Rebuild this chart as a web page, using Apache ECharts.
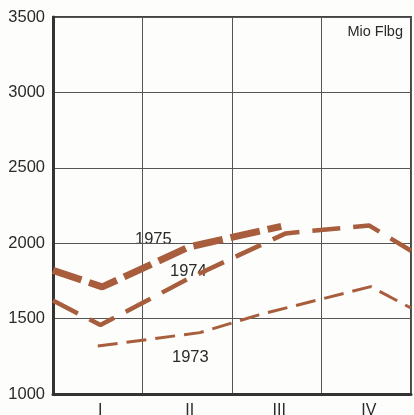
<!DOCTYPE html>
<html>
<head>
<meta charset="utf-8">
<script src="https://cdn.jsdelivr.net/npm/echarts@6/dist/echarts.min.js"></script>
<style>
html,body{margin:0;padding:0;background:#fdfdfb;}
#c{width:414px;height:415px;}
</style>
</head>
<body>
<div id="c"></div>
<script>
const quarters = ['I', 'II', 'III', 'IV'];
const unitLabel = 'Mio Flbg';
const yMin = 1000, yMax = 3500, yStep = 500;

// x positions in quarter units (0 = left edge, 4 = right edge)
const x1975 = [0, 0.55, 1.52, 2.55];
const v1975 = [1820, 1710, 1975, 2112];

const x1974 = [0, 0.53, 1.53, 2.6, 3.53, 4];
const v1974 = [1620, 1457, 1770, 2065, 2118, 1950];

const x1973 = [0.5, 1.64, 2.3, 3.55, 4];
const v1973 = [1318, 1407, 1525, 1712, 1570];

const pair = (xs, vs) => xs.map((x, i) => [x, vs[i]]);
const brown = '#a85d3d';
const font = "'Liberation Sans', Arial, sans-serif";

const chart = echarts.init(document.getElementById('c'), null, {renderer: 'canvas'});
chart.setOption({
  backgroundColor: '#fdfdfb',
  animation: false,
  grid: {left: 53, right: 3, top: 17, bottom: 21, containLabel: false, outerBoundsMode: 'none',
         show: true, borderColor: '#444', borderWidth: 2, backgroundColor: 'transparent'},
  xAxis: [
    {
      type: 'category', data: quarters, boundaryGap: true,
      axisLine: {show: true, lineStyle: {color: '#333', width: 3}},
      axisTick: {show: false},
      axisLabel: {color: '#2a2a2a', fontSize: 16, fontFamily: font, margin: 9, padding: [0, 0, 0, 5]},
      splitLine: {show: true, lineStyle: {color: '#555', width: 1}}
    },
    {type: 'value', min: 0, max: 4, show: false}
  ],
  yAxis: {
    type: 'value', min: yMin, max: yMax, interval: yStep,
    axisLine: {show: true, lineStyle: {color: '#333', width: 3}},
    axisTick: {show: false},
    axisLabel: {color: '#2a2a2a', fontSize: 16.5, fontFamily: font, margin: 8, formatter: v => String(v)},
    splitLine: {show: true, lineStyle: {color: '#555', width: 1}}
  },
  series: [
    {name: '1973', type: 'line', xAxisIndex: 1, data: pair(x1973, v1973), symbol: 'none',
     lineStyle: {color: brown, width: 3, type: [20, 9]}},
    {name: '1974', type: 'line', xAxisIndex: 1, data: pair(x1974, v1974), symbol: 'none',
     lineStyle: {color: brown, width: 4.5, type: [28, 13]}},
    {name: '1975', type: 'line', xAxisIndex: 1, data: pair(x1975, v1975), symbol: 'none',
     lineStyle: {color: brown, width: 7, type: [30, 8]}}
  ],
  graphic: [
    {type: 'text', right: 11, top: 24, style: {text: unitLabel, fill: '#2a2a2a', font: '14.5px ' + font}},
    {type: 'text', left: 135, top: 231, style: {text: '1975', fill: '#2a2a2a', font: '16.5px ' + font}},
    {type: 'text', left: 170, top: 263, style: {text: '1974', fill: '#2a2a2a', font: '16.5px ' + font}},
    {type: 'text', left: 172, top: 349, style: {text: '1973', fill: '#2a2a2a', font: '16.5px ' + font}}
  ]
});
</script>
</body>
</html>
